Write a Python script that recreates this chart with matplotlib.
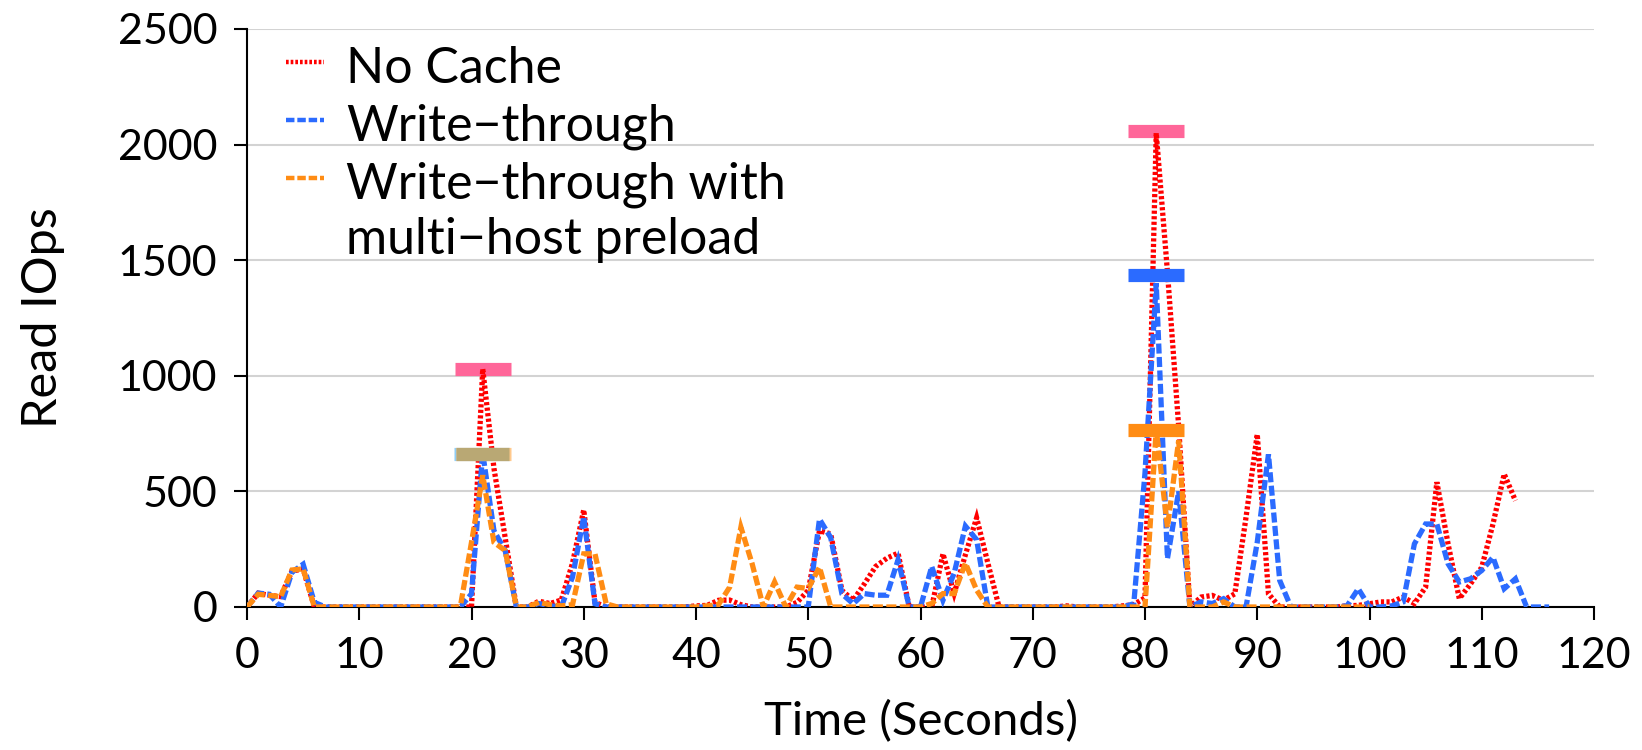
import numpy as np
import matplotlib
matplotlib.use('Agg')
import matplotlib.pyplot as plt

plt.rcParams['font.family'] = ['Lato', 'DejaVu Sans']

# read IOps per second, one value per second starting at t=0
no_cache = [0, 60, 50, 45, 155, 165, 0, 0, 0, 0,
            0, 0, 0, 0, 0, 0, 0, 0, 0, 0,
            0, 1030, 600, 300, 0, 0, 25, 15, 30, 190,
            420, 20, 0, 0, 0, 0, 0, 0, 0, 0,
            5, 7, 29, 30, 10, 0, 0, 0, 0, 20,
            72, 330, 316, 72, 29, 100, 175, 211, 233, 0,
            0, 0, 230, 58, 226, 386, 190, 0, 0, 0,
            0, 0, 0, 5, 0, 0, 0, 0, 5, 10,
            40, 2050, 1450, 780, 0, 43, 50, 29, 57, 388,
            747, 57, 0, 0, 0, 0, 0, 0, 5, 7,
            14, 22, 22, 43, 15, 86, 540, 273, 36, 100,
            172, 359, 575, 460]
write_through = [0, 60, 55, 0, 150, 185, 20, 0, 0, 0,
                 0, 0, 0, 0, 0, 0, 0, 0, 0, 0,
                 57, 665, 330, 244, 0, 0, 15, 5, 0, 130,
                 390, 14, 0, 0, 0, 0, 0, 0, 0, 0,
                 0, 0, 0, 0, 0, 0, 0, 0, 0, 0,
                 0, 380, 300, 57, 14, 58, 51, 51, 204, 0,
                 0, 175, 29, 146, 350, 291, 0, 0, 0, 0,
                 0, 0, 0, 0, 0, 0, 0, 0, 0, 14,
                 580, 1400, 210, 500, 0, 22, 15, 36, 0, 0,
                 280, 660, 115, 0, 0, 0, 0, 0, 5, 79,
                 0, 0, 5, 22, 273, 359, 359, 187, 108, 122,
                 158, 215, 79, 122, 0, 0, 0]
preload = [0, 55, 50, 45, 160, 165, 0, 0, 0, 0,
           0, 0, 0, 0, 0, 0, 0, 0, 0, 0,
           280, 570, 280, 244, 0, 0, 20, 10, 5, 10,
           230, 230, 14, 0, 0, 0, 0, 0, 0, 0,
           0, 5, 10, 86, 345, 187, 0, 108, 0, 86,
           80, 172, 0, 0, 0, 0, 0, 0, 0, 0,
           0, 15, 58, 58, 190, 73, 0, 0, 0, 0,
           0, 0, 0, 0, 0, 0, 0, 0, 0, 0,
           0, 770, 345, 720, 0, 0, 0, 22, 0, 0,
           0, 0, 0, 0, 0, 0, 0, 0, 0, 0,
           0]

t_red = np.arange(len(no_cache))
t_blue = np.arange(len(write_through))
t_orange = np.arange(len(preload))

# peak markers (time, level)
peak_t = [21, 21, 81, 81, 81]
peak_v = [1030, 662, 2060, 1435, 764]
peak_col = ['#FF6699', '#B9A874', '#FF6699', '#2B6BFF', '#FF8C14']

red = '#FF0000'
blue = '#2B6BFF'
orange = '#FF8C14'
lw = 3.8

fig = plt.figure(figsize=(16.42, 7.5), dpi=100)
ax = fig.add_axes([247 / 1642, 1 - 607 / 750, 1347 / 1642, 578 / 750])

ax.yaxis.grid(True, color='#D3D3D3', linewidth=1.5, zorder=0)
ax.set_axisbelow(True)

line_kw = dict(linewidth=lw, dash_joinstyle='miter', dash_capstyle='butt')
ax.plot(t_red, no_cache, color=red, linestyle=(0, (0.6, 0.45)), zorder=3, **line_kw)
ax.plot(t_blue, write_through, color=blue, linestyle=(0, (1.9, 0.65)), zorder=4, **line_kw)
ax.plot(t_orange, preload, color=orange, linestyle=(0, (1.9, 0.65)), zorder=5, **line_kw)

# peak bars
for i in range(len(peak_t)):
    z = 2 if peak_col[i] == '#FF6699' else 6
    if peak_col[i] == '#B9A874':
        ax.hlines(peak_v[i], peak_t[i] - 2.6, peak_t[i] + 2.3, color='#8FCDF5', linewidth=9.5, zorder=z)
        ax.hlines(peak_v[i], peak_t[i] - 2.4, peak_t[i] + 2.5, color='#FFC98C', linewidth=9.5, zorder=z)
        ax.hlines(peak_v[i], peak_t[i] - 2.4, peak_t[i] + 2.3, color=peak_col[i], linewidth=9.5, zorder=z)
    else:
        ax.hlines(peak_v[i], peak_t[i] - 2.5, peak_t[i] + 2.5, color=peak_col[i], linewidth=9.5, zorder=z)

ax.set_xlim(0, 120)
ax.set_ylim(0, 2500)
ax.set_xticks(np.arange(0, 121, 10))
ax.set_yticks(np.arange(0, 2501, 500))
ax.spines['top'].set_visible(False)
ax.spines['right'].set_visible(False)
for s in ['left', 'bottom']:
    ax.spines[s].set_linewidth(1.5)
ax.tick_params(axis='both', direction='out', length=9.5, width=1.5, labelsize=31)
ax.tick_params(axis='x', pad=12)
ax.tick_params(axis='y', pad=12)
ax.set_xlabel('Time (Seconds)', fontsize=34, labelpad=18)
ax.set_ylabel('Read IOps', fontsize=35)
ax.yaxis.set_label_coords(-0.135, 0.5)

# legend drawn by hand so the handle sits on the first line of the last label
leg_labels = ['No Cache', 'Write\u2212through', 'Write\u2212through with', 'multi\u2212host preload']
leg_colors = [red, blue, orange, None]
leg_styles = [(0, (0.6, 0.45)), (0, (1.9, 0.65)), (0, (1.9, 0.65)), None]
base_px = [83, 141, 199, 254]
for lab, col, ls, b in zip(leg_labels, leg_colors, leg_styles, base_px):
    yb = (607 - b) / 578
    if col is not None:
        yh = (607 - b + 21) / 578
        ax.plot([0.029, 0.0572], [yh, yh], transform=ax.transAxes, color=col,
                linestyle=ls, linewidth=3.2, dash_capstyle='butt', clip_on=False)
    ax.text(0.0735, yb, lab, transform=ax.transAxes, fontsize=36, va='baseline', ha='left')

fig.savefig('out.png', dpi=100)
